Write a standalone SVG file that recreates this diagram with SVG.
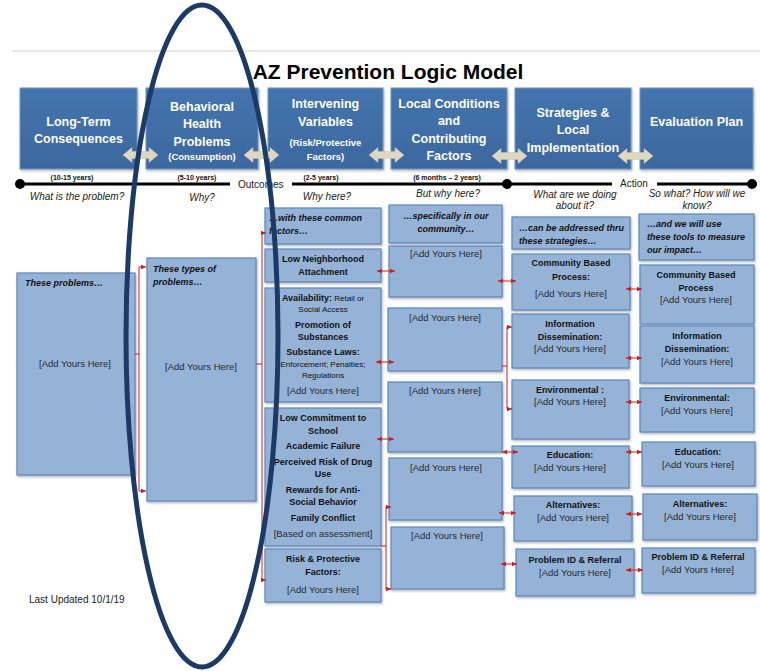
<svg xmlns="http://www.w3.org/2000/svg" width="760" height="671" viewBox="0 0 760 671">
<defs>
<linearGradient id="hg" x1="0" y1="0" x2="0" y2="1">
<stop offset="0" stop-color="#4474AD"/>
<stop offset="1" stop-color="#3C689F"/>
</linearGradient>
<filter id="sh" x="-10%" y="-10%" width="130%" height="130%">
<feDropShadow dx="1" dy="1.5" stdDeviation="1" flood-color="#777" flood-opacity="0.55"/>
</filter>
<marker id="ah" viewBox="0 0 10 10" refX="10" refY="5" markerWidth="5" markerHeight="5" markerUnits="userSpaceOnUse" orient="auto-start-reverse">
<path d="M0,0.5 L10,5 L0,9.5 Z" fill="#D01C1C"/>
</marker>
<path id="dbl" d="M0,0 L9,-7.5 L9,-3.5 L26,-3.5 L26,-7.5 L35,0 L26,7.5 L26,3.5 L9,3.5 L9,7.5 Z"/>
</defs>
<style>
.hb{fill:url(#hg);stroke:#6F97C8;stroke-width:1;filter:url(#sh)}
.bx{fill:#95B3D7;stroke:#5B89C4;stroke-width:1.2;filter:url(#sh)}
.ht{font-family:"Liberation Sans",Arial,sans-serif;font-weight:bold;fill:#fff;font-size:12.5px;text-anchor:middle}
.hs{font-size:9.5px}
.t{font-family:"Liberation Sans",Arial,sans-serif;fill:#111;font-size:9px;text-anchor:middle}
.b{font-weight:bold}
.bi{font-weight:bold;font-style:italic}
.l{text-anchor:start}
.a{font-size:9.5px;fill:#2a2a2a}
.sm{font-size:8px}
.it{font-family:"Liberation Sans",Arial,sans-serif;font-style:italic;font-size:10px;fill:#222;text-anchor:middle}
.yr{font-family:"Liberation Sans",Arial,sans-serif;font-weight:bold;font-size:7px;fill:#111;text-anchor:middle}
.arr{fill:#DDD8C2;stroke:#C9C3A8;stroke-width:0.5}
.rc{stroke:#D01C1C;stroke-width:1;fill:none}
</style>
<rect width="760" height="671" fill="#fff"/>
<line x1="12" y1="51" x2="760" y2="51" stroke="#cfcfcf" stroke-width="1"/>
<text x="388" y="79" font-family="'Liberation Sans',Arial,sans-serif" font-weight="bold" font-size="21" fill="#000" text-anchor="middle">AZ Prevention Logic Model</text>

<g id="h1"><rect class="hb" x="20" y="88" width="117" height="81"/>
<text class="ht" x="78.5" y="125.5">Long-Term</text><text class="ht" x="78.5" y="142.5">Consequences</text></g>
<g id="h2"><rect class="hb" x="146" y="88" width="112" height="81"/>
<text class="ht" x="202" y="110.5">Behavioral</text><text class="ht" x="202" y="127.5">Health</text><text class="ht" x="202" y="145.5">Problems</text><text class="ht hs" x="202" y="159.5">(Consumption)</text></g>
<g id="h3"><rect class="hb" x="268" y="88" width="115" height="81"/>
<text class="ht" x="325.5" y="107.5">Intervening</text><text class="ht" x="325.5" y="125.5">Variables</text><text class="ht hs" x="325.5" y="145.5">(Risk/Protective</text><text class="ht hs" x="325.5" y="159.5">Factors)</text></g>
<g id="h4"><rect class="hb" x="391" y="88" width="116" height="81"/>
<text class="ht" x="449" y="107.5">Local Conditions</text><text class="ht" x="449" y="124.5">and</text><text class="ht" x="449" y="142.5">Contributing</text><text class="ht" x="449" y="159.5">Factors</text></g>
<g id="h5"><rect class="hb" x="515" y="88" width="116" height="81"/>
<text class="ht" x="573" y="116.5">Strategies &amp;</text><text class="ht" x="573" y="133.5">Local</text><text class="ht" x="573" y="151.5">Implementation</text></g>
<g id="h6"><rect class="hb" x="640" y="88" width="113" height="81"/>
<text class="ht" x="696.5" y="125.5">Evaluation Plan</text></g>

<g id="header-arrows">
<use href="#dbl" class="arr" x="123" y="155"/>
<use href="#dbl" class="arr" x="244" y="155"/>
<use href="#dbl" class="arr" x="369" y="155"/>
<use href="#dbl" class="arr" x="492" y="156"/>
<use href="#dbl" class="arr" x="618" y="156"/>
</g>

<g id="timeline">
<path d="M20,184 H230 M292,184 H612 M657,184 H752" stroke="#000" stroke-width="3"/>
<circle cx="20" cy="184" r="5" fill="#000"/><circle cx="507" cy="184" r="5" fill="#000"/><circle cx="752" cy="184" r="5" fill="#000"/>
<text x="238" y="188" font-family="'Liberation Sans',Arial,sans-serif" font-size="10" fill="#222">Outcomes</text>
<text x="620" y="187" font-family="'Liberation Sans',Arial,sans-serif" font-size="10" fill="#222">Action</text>
<text class="yr" x="72" y="179.5">(10-15 years)</text>
<text class="yr" x="197" y="179.5">(5-10 years)</text>
<text class="yr" x="321" y="179.5">(2-5 years)</text>
<text class="yr" x="447" y="179.5">(6 months – 2 years)</text>
<text class="it" x="77" y="199.5">What is the problem?</text>
<text class="it" x="202" y="200.5">Why?</text>
<text class="it" x="327" y="199.5">Why here?</text>
<text class="it" x="448" y="196.5">But why here?</text>
<text class="it" x="575" y="197.5">What are we doing</text>
<text class="it" x="575" y="208.5">about it?</text>
<text class="it" x="697" y="196.5">So what? How will we</text>
<text class="it" x="697" y="208.5">know?</text>
</g>

<g id="c1"><rect class="bx" x="17" y="273" width="118" height="202"/>
<text class="t bi l" x="25" y="286">These problems…</text>
<text class="t a" x="75" y="367">[Add Yours Here]</text></g>
<g id="c2"><rect class="bx" x="147" y="258" width="109" height="243"/>
<text class="t bi l" x="153" y="272">These types of</text><text class="t bi l" x="153" y="285">problems…</text>
<text class="t a" x="201" y="370">[Add Yours Here]</text></g>

<g id="c3a"><rect class="bx" x="265" y="208" width="116" height="36"/>
<text class="t bi l" x="269" y="221">…with these common</text><text class="t bi l" x="269" y="234">factors…</text></g>
<g id="c3b"><rect class="bx" x="265" y="249" width="116" height="33"/>
<text class="t b" x="323" y="262">Low Neighborhood</text><text class="t b" x="323" y="275">Attachment</text></g>
<g id="c3c"><rect class="bx" x="265" y="288" width="116" height="114"/>
<text class="t" x="323" y="301"><tspan class="b">Availability:</tspan><tspan class="sm"> Retail  or</tspan></text>
<text class="t sm" x="323" y="312">Social Access</text>
<text class="t b" x="323" y="328">Promotion of</text>
<text class="t b" x="323" y="340">Substances</text>
<text class="t b" x="323" y="355">Substance  Laws:</text>
<text class="t sm" x="323" y="367">Enforcement; Penalties;</text>
<text class="t sm" x="323" y="378">Regulations</text>
<text class="t a" x="323" y="394">[Add Yours Here]</text></g>
<g id="c3d"><rect class="bx" x="265" y="408" width="116" height="138"/>
<text class="t b" x="323" y="421">Low Commitment to</text>
<text class="t b" x="323" y="434">School</text>
<text class="t b" x="323" y="449">Academic Failure</text>
<text class="t b" x="323" y="465">Perceived Risk of Drug</text>
<text class="t b" x="323" y="477">Use</text>
<text class="t b" x="323" y="493">Rewards for Anti-</text>
<text class="t b" x="323" y="505">Social Behavior</text>
<text class="t b" x="323" y="521">Family Conflict</text>
<text class="t a" x="323" y="537">[Based on assessment]</text></g>
<g id="c3e"><rect class="bx" x="265" y="549" width="116" height="53"/>
<text class="t b" x="323" y="562">Risk &amp; Protective</text>
<text class="t b" x="323" y="575">Factors:</text>
<text class="t a" x="323" y="593">[Add Yours Here]</text></g>

<g id="c4a"><rect class="bx" x="389" y="205" width="113" height="38"/>
<text class="t bi" x="446" y="219">…specifically in our</text><text class="t bi" x="446" y="232">community…</text></g>
<g id="c4b"><rect class="bx" x="389" y="246" width="113" height="51"/><text class="t a" x="446" y="257">[Add Yours Here]</text></g>
<g id="c4c"><rect class="bx" x="388" y="308" width="114" height="63"/><text class="t a" x="445" y="321">[Add Yours Here]</text></g>
<g id="c4d"><rect class="bx" x="388" y="382" width="114" height="70"/><text class="t a" x="445" y="394">[Add Yours Here]</text></g>
<g id="c4e"><rect class="bx" x="389" y="458" width="113" height="62"/><text class="t a" x="446" y="471">[Add Yours Here]</text></g>
<g id="c4f"><rect class="bx" x="391" y="527" width="113" height="62"/><text class="t a" x="447" y="539">[Add Yours Here]</text></g>

<g id="c5a"><rect class="bx" x="512" y="217" width="118" height="32"/>
<text class="t bi l" x="519" y="231">…can be addressed thru</text><text class="t bi l" x="519" y="244">these strategies…</text></g>
<g id="c5b"><rect class="bx" x="512" y="254" width="118" height="56"/>
<text class="t b" x="571" y="266">Community Based</text><text class="t b" x="571" y="280">Process:</text><text class="t a" x="571" y="297">[Add Yours Here]</text></g>
<g id="c5c"><rect class="bx" x="512" y="314" width="117" height="54"/>
<text class="t b" x="570" y="327">Information</text><text class="t b" x="570" y="340">Dissemination:</text><text class="t a" x="570" y="352">[Add Yours Here]</text></g>
<g id="c5d"><rect class="bx" x="512" y="380" width="117" height="59"/>
<text class="t b" x="570" y="393">Environmental :</text><text class="t a" x="570" y="405">[Add Yours Here]</text></g>
<g id="c5e"><rect class="bx" x="512" y="446" width="117" height="42"/>
<text class="t b" x="570" y="458">Education:</text><text class="t a" x="570" y="471">[Add Yours Here]</text></g>
<g id="c5f"><rect class="bx" x="514" y="496" width="118" height="45"/>
<text class="t b" x="573" y="508">Alternatives:</text><text class="t a" x="573" y="521">[Add Yours Here]</text></g>
<g id="c5g"><rect class="bx" x="516" y="549" width="118" height="47"/>
<text class="t b" x="575" y="563">Problem ID &amp; Referral</text><text class="t a" x="575" y="576">[Add Yours Here]</text></g>

<g id="c6a"><rect class="bx" x="639" y="214" width="115" height="46"/>
<text class="t bi l" x="647" y="227">…and we will use</text><text class="t bi l" x="647" y="240">these tools to measure</text><text class="t bi l" x="647" y="253">our impact…</text></g>
<g id="c6b"><rect class="bx" x="640" y="265" width="114" height="59"/>
<text class="t b" x="696" y="278">Community Based</text><text class="t b" x="696" y="291">Process</text><text class="t a" x="696" y="303">[Add Yours Here]</text></g>
<g id="c6c"><rect class="bx" x="640" y="326" width="114" height="57"/>
<text class="t b" x="697" y="339">Information</text><text class="t b" x="697" y="352">Dissemination:</text><text class="t a" x="697" y="365">[Add Yours Here]</text></g>
<g id="c6d"><rect class="bx" x="640" y="388" width="114" height="44"/>
<text class="t b" x="697" y="401">Environmental:</text><text class="t a" x="697" y="414">[Add Yours Here]</text></g>
<g id="c6e"><rect class="bx" x="642" y="442" width="113" height="44"/>
<text class="t b" x="698" y="455">Education:</text><text class="t a" x="698" y="468" font-size="8.5">[Add Yours Here]</text></g>
<g id="c6f"><rect class="bx" x="643" y="494" width="114" height="46"/>
<text class="t b" x="700" y="507">Alternatives:</text><text class="t a" x="700" y="520">[Add Yours Here]</text></g>
<g id="c6g"><rect class="bx" x="642" y="548" width="113" height="45"/>
<text class="t b" x="698" y="560">Problem ID &amp; Referral</text><text class="t a" x="698" y="573">[Add Yours Here]</text></g>

<g id="connectors">
<path class="rc" d="M135,354 H139"/>
<path class="rc" d="M146,267 H139 V491 H146" marker-start="url(#ah)" marker-end="url(#ah)"/>
<path class="rc" d="M256,364 H262"/>
<path class="rc" d="M266,233 H262 V580 H266" marker-start="url(#ah)" marker-end="url(#ah)"/>
<path class="rc" d="M381,546 H386"/>
<path class="rc" d="M391,507 H386 V589 H391" marker-start="url(#ah)" marker-end="url(#ah)"/>
<path class="rc" d="M502,366 H507"/>
<path class="rc" d="M512,327 H507 V409 H512" marker-start="url(#ah)" marker-end="url(#ah)"/>
<line class="rc" x1="377" y1="271" x2="395" y2="271" marker-start="url(#ah)" marker-end="url(#ah)"/>
<line class="rc" x1="376" y1="362" x2="394" y2="362" marker-start="url(#ah)" marker-end="url(#ah)"/>
<line class="rc" x1="377" y1="439" x2="394" y2="439" marker-start="url(#ah)" marker-end="url(#ah)"/>
<line class="rc" x1="498" y1="281" x2="516" y2="281" marker-start="url(#ah)" marker-end="url(#ah)"/>
<line class="rc" x1="502" y1="452" x2="518" y2="452" marker-start="url(#ah)" marker-end="url(#ah)"/>
<line class="rc" x1="499" y1="513" x2="516" y2="513" marker-start="url(#ah)" marker-end="url(#ah)"/>
<line class="rc" x1="501" y1="564" x2="517" y2="564" marker-start="url(#ah)" marker-end="url(#ah)"/>
<line class="rc" x1="626" y1="289" x2="642" y2="289" marker-start="url(#ah)" marker-end="url(#ah)"/>
<line class="rc" x1="626" y1="358" x2="642" y2="358" marker-start="url(#ah)" marker-end="url(#ah)"/>
<line class="rc" x1="626" y1="402" x2="642" y2="402" marker-start="url(#ah)" marker-end="url(#ah)"/>
<line class="rc" x1="626" y1="452" x2="642" y2="452" marker-start="url(#ah)" marker-end="url(#ah)"/>
<line class="rc" x1="626" y1="514" x2="642" y2="514" marker-start="url(#ah)" marker-end="url(#ah)"/>
<line class="rc" x1="626" y1="570" x2="643" y2="570" marker-start="url(#ah)" marker-end="url(#ah)"/>
</g>

<text x="29" y="603" font-family="'Liberation Sans',Arial,sans-serif" font-size="10" fill="#222">Last Updated 10/1/19</text>

<ellipse id="highlight" cx="202" cy="336" rx="76" ry="331" fill="none" stroke="#1B3A66" stroke-width="5"/>
</svg>
